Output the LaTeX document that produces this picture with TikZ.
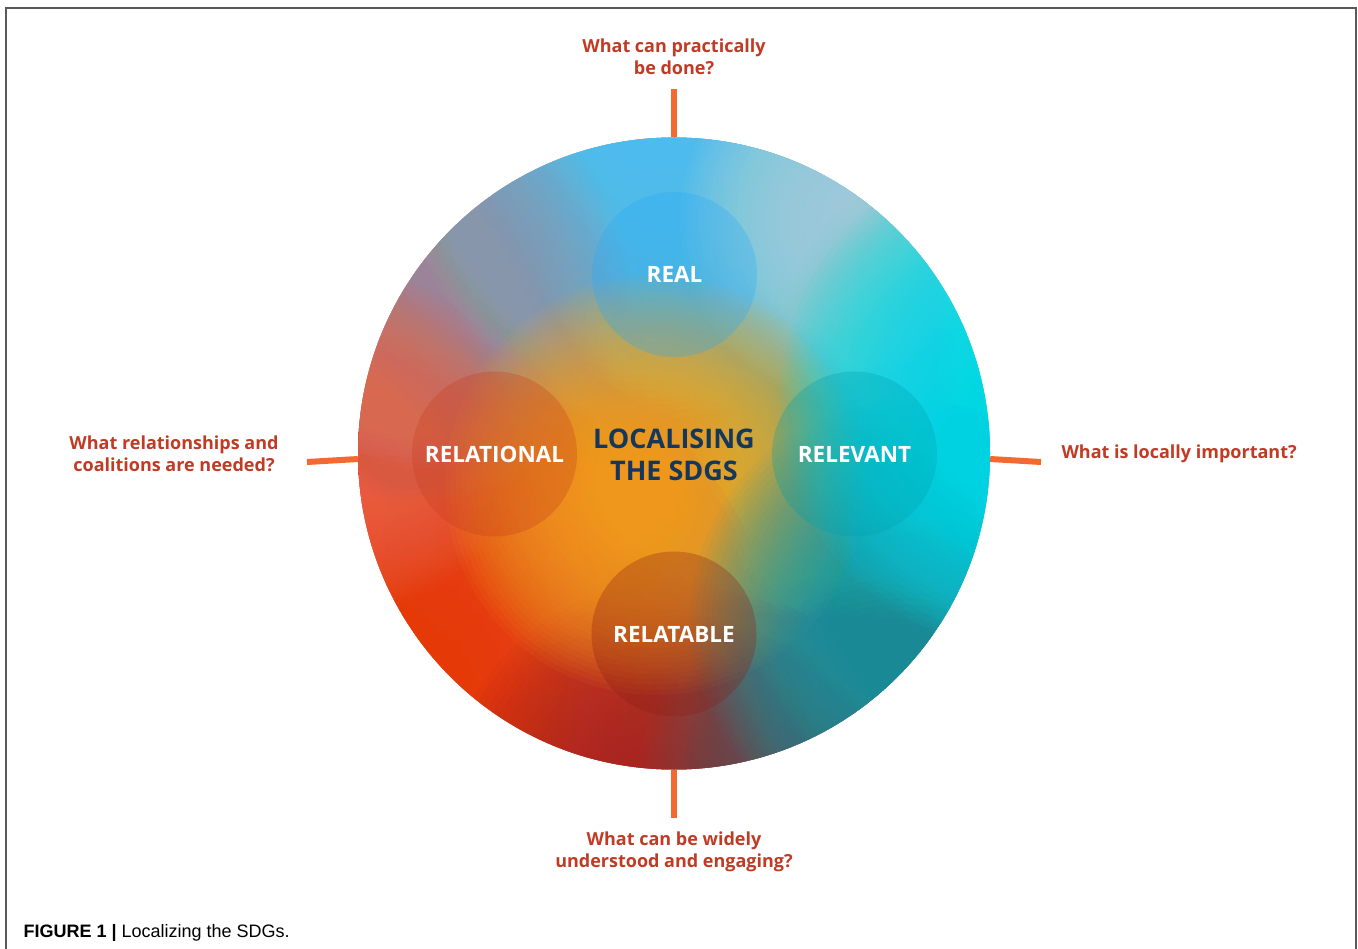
\documentclass[tikz,border=0pt]{standalone}
\usepackage{fontspec}
\setmainfont{Open Sans}
\newfontfamily\capfont{Liberation Sans}
\usepackage{xcolor}
\usepackage{tikz}

\definecolor{askred}{RGB}{192,58,36}
\definecolor{tickorange}{RGB}{242,106,50}
\definecolor{sdgnavy}{RGB}{22,55,92}
\definecolor{framegray}{RGB}{90,90,90}
% disc colours
\definecolor{discleft}{RGB}{240,80,40}
\definecolor{discmid}{RGB}{248,150,40}
\definecolor{discright}{RGB}{0,222,238}
\definecolor{skyblue}{RGB}{78,200,252}
\definecolor{paleblue}{RGB}{185,218,218}
\definecolor{mint}{RGB}{110,215,205}
\definecolor{mauve}{RGB}{155,150,172}
\definecolor{salmon}{RGB}{232,105,80}
\definecolor{cyanblob}{RGB}{0,226,242}
\definecolor{redorange}{RGB}{248,58,8}
\definecolor{darkred}{RGB}{170,32,32}
\definecolor{slate}{RGB}{72,100,110}
\definecolor{teal}{RGB}{25,155,168}
\definecolor{amber}{RGB}{252,165,28}
% petal colours
\definecolor{realfill}{RGB}{40,170,250}
\definecolor{relationalfill}{RGB}{200,60,30}
\definecolor{relevantfill}{RGB}{0,160,175}
\definecolor{relatablefill}{RGB}{140,30,20}

\begin{document}
\begin{tikzpicture}[x=1pt, y=-1pt,
    ask/.style={text=askred, font=\fontsize{18}{22}\selectfont\bfseries, align=center},
    petal/.style={circle, minimum size=165pt, inner sep=0pt, fill=#1, fill opacity=0.3,
      text opacity=1, text=white, font=\fontsize{22.5}{26}\selectfont\bfseries},
    tick/.style={tickorange, line width=6pt}]
    \useasboundingbox (0, 0) rectangle (1358, 949);
    % frame
    \draw[framegray, line width=2pt] (6, 949) -- (6, 8.5) -- (1356, 8.5) -- (1356, 949);

    % the disc
    \node[circle, minimum size=632pt, inner sep=0pt](sdg) at (674, 453.5){};
    % ticks
    \coordinate(topend) at (674, 89);
    \coordinate(leftend) at (307, 462);
    \coordinate(rightend) at (1041, 462);
    \coordinate(bottomend) at (674, 818);
    \draw[tick] (sdg.north) -- (topend);
    \draw[tick] (sdg.181.6) -- (leftend);
    \draw[tick] (sdg.-1.6) -- (rightend);
    \draw[tick] (sdg.south) -- (bottomend);

    % colours of the disc: soft blobs made of rings
    \begin{scope}
      \clip (674, 453.5) circle (316pt);
      \shade[left color=discleft, middle color=discmid, right color=discright]
        (358, 137) rectangle (990, 770);
      \foreach \c/\x/\y/\r/\a in {redorange/440/680/340/.05, darkred/680/820/240/.06,
          slate/900/780/260/.05, skyblue/640/120/300/.075, mauve/420/290/210/.05,
          salmon/350/440/170/.06, paleblue/870/220/190/.055, mint/940/320/150/.04,
          amber/655/485/210/.065, teal/910/620/220/.055, cyanblob/1030/400/250/.06}
        \foreach \k in {1,...,40}
          \fill[\c, fill opacity=\a] (\x, \y) circle ({\r*\k/40*1pt});
    \end{scope}

    % the four R's
    \node[petal=realfill](real) at (674.5, 274.5){REAL};
    \node[petal=relationalfill](relational) at (494.5, 454){RELATIONAL};
    \node[petal=relevantfill](relevant) at (854.5, 454){RELEVANT};
    \node[petal=relatablefill](relatable) at (674, 634){RELATABLE};
    \node[text=sdgnavy, font=\fontsize{27}{32}\selectfont\bfseries, align=center](title)
      at (674, 455){LOCALISING\\THE SDGS};

    % questions
    \node[ask](asktop) at (674, 57){What can practically\\be done?};
    \node[ask](askleft) at (174, 454){What relationships and\\coalitions are needed?};
    \node[ask, anchor=west](askright) at (1058, 454){What is locally important?};
    \node[ask](askbottom) at (674, 852){What can be widely\\understood and engaging?};

    % caption
    \node[anchor=base west, font=\capfont\fontsize{18}{22}\selectfont](caption)
      at (20, 937){\textbf{FIGURE 1 |} Localizing the SDGs.};
  \end{tikzpicture}
\end{document}
